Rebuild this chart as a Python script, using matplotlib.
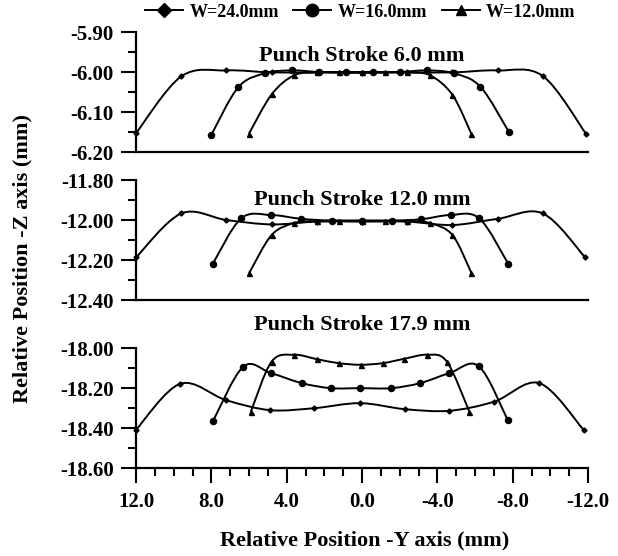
import matplotlib
matplotlib.use('Agg')
import matplotlib.pyplot as plt
import numpy as np
from matplotlib.path import Path
from matplotlib.patches import PathPatch
from matplotlib.lines import Line2D
from matplotlib.ticker import MultipleLocator, FormatStrFormatter

plt.rcParams['font.family'] = ['Liberation Serif', 'DejaVu Serif']
plt.rcParams['font.weight'] = 'bold'

# Punch stroke 6.0 mm
s6_w24_y = [12.0, 9.6, 7.2, 4.8, 2.4, 0.0, -2.4, -4.8, -7.2, -9.6, -11.9]
s6_w24_z = [-6.153, -6.011, -5.996, -6.001, -6.001, -6.002, -6.001, -6.001, -5.996, -6.010, -6.155]
s6_w16_y = [8.0, 6.57, 5.14, 3.71, 2.28, 0.86, -0.57, -2.0, -3.43, -4.86, -6.29, -7.8]
s6_w16_z = [-6.157, -6.038, -6.003, -5.996, -6.0, -6.001, -6.001, -6.0, -5.996, -6.003, -6.037, -6.150]
s6_w12_y = [6.0, 4.8, 3.6, 2.4, 1.2, 0.0, -1.2, -2.4, -3.6, -4.8, -5.8]
s6_w12_z = [-6.154, -6.056, -6.008, -6.001, -6.0, -6.0, -6.0, -6.001, -6.008, -6.057, -6.154]

# Punch stroke 12.0 mm
s12_w24_y = [12.0, 9.6, 7.2, 4.8, 2.4, 0.0, -2.4, -4.8, -7.2, -9.6, -11.85]
s12_w24_z = [-12.187, -11.967, -12.0, -12.022, -12.008, -12.008, -12.008, -12.025, -11.994, -11.967, -12.187]
s12_w16_y = [7.93, 6.42, 4.83, 3.24, 1.6, 0.0, -1.6, -3.15, -4.7, -6.23, -7.77]
s12_w16_z = [-12.22, -11.992, -11.975, -11.994, -12.003, -12.003, -12.003, -11.996, -11.975, -11.992, -12.22]
s12_w12_y = [5.98, 4.8, 3.6, 2.4, 1.2, 0.0, -1.2, -2.4, -3.6, -4.8, -5.8]
s12_w12_z = [-12.263, -12.075, -12.015, -12.005, -12.003, -12.003, -12.003, -12.005, -12.015, -12.075, -12.263]

# Punch stroke 17.9 mm
s18_w24_y = [12.0, 9.65, 7.22, 4.87, 2.53, 0.1, -2.27, -4.64, -7.03, -9.42, -11.76]
s18_w24_z = [-18.408, -18.178, -18.26, -18.31, -18.30, -18.275, -18.305, -18.313, -18.267, -18.175, -18.408]
s18_w16_y = [7.9, 6.3, 4.83, 3.19, 1.65, 0.09, -1.54, -3.08, -4.64, -6.2, -7.74]
s18_w16_z = [-18.362, -18.092, -18.125, -18.175, -18.20, -18.20, -18.20, -18.175, -18.125, -18.09, -18.36]
s18_w12_y = [5.9, 4.8, 3.6, 2.4, 1.24, 0.08, -1.1, -2.25, -3.45, -4.5, -5.7]
s18_w12_z = [-18.317, -18.067, -18.033, -18.055, -18.075, -18.083, -18.075, -18.053, -18.033, -18.067, -18.317]

labels = ['W=24.0mm', 'W=16.0mm', 'W=12.0mm']
markers = ['D', 'o', '^']
msizes = [2.6, 4.4, 3.6]

panels = [
    ('Punch Stroke 6.0 mm', (-6.20, -5.90), 0.10, 0.05,
     [(s6_w24_y, s6_w24_z), (s6_w16_y, s6_w16_z), (s6_w12_y, s6_w12_z)]),
    ('Punch Stroke 12.0 mm', (-12.40, -11.80), 0.20, 0.10,
     [(s12_w24_y, s12_w24_z), (s12_w16_y, s12_w16_z), (s12_w12_y, s12_w12_z)]),
    ('Punch Stroke 17.9 mm', (-18.60, -18.00), 0.20, 0.10,
     [(s18_w24_y, s18_w24_z), (s18_w16_y, s18_w16_z), (s18_w12_y, s18_w12_z)]),
]
title_pos = [0.80, 0.83, 1.19]
bottoms = [0.7266, 0.4604, 0.158]


def smooth_path(x, z):
    # bezier segments (catmull-rom style), like a "smoothed line" chart
    p = np.column_stack([x, z])
    n = len(p)
    verts = [p[0]]
    codes = [Path.MOVETO]
    for i in range(n - 1):
        p0 = p[max(i - 1, 0)]
        p1 = p[i]
        p2 = p[i + 1]
        p3 = p[min(i + 2, n - 1)]
        verts += [p1 + (p2 - p0) / 6, p2 - (p3 - p1) / 6, p2]
        codes += [Path.CURVE4] * 3
    return Path(verts, codes)


fig = plt.figure(figsize=(6.18, 5.56), dpi=100)

for k, (title, ylim, major, minor, series) in enumerate(panels):
    ax = fig.add_axes([0.2201, bottoms[k], 0.7314, 0.2158])
    for (yy, zz), m, ms in zip(series, markers, msizes):
        ax.add_patch(PathPatch(smooth_path(yy, zz), fill=False, edgecolor='black',
                               lw=1.4, clip_on=False))
        ax.plot(yy, zz, linestyle='none', marker=m, ms=ms, color='black', clip_on=False)
    ax.set_xlim(12, -12)
    ax.set_ylim(*ylim)
    ax.yaxis.set_major_locator(MultipleLocator(major))
    ax.yaxis.set_minor_locator(MultipleLocator(minor))
    ax.yaxis.set_major_formatter(FormatStrFormatter('%.2f'))
    ax.spines['top'].set_visible(False)
    ax.spines['right'].set_visible(False)
    for sp in ['left', 'bottom']:
        ax.spines[sp].set_linewidth(1.6)
    ax.tick_params(axis='y', which='major', direction='out', length=11, width=1.5,
                   labelsize=15, pad=5)
    ax.tick_params(axis='y', which='minor', direction='out', length=5.5, width=1.5)
    if k < 2:
        ax.tick_params(axis='x', which='both', bottom=False, labelbottom=False)
    else:
        ax.xaxis.set_major_locator(MultipleLocator(4))
        ax.xaxis.set_minor_locator(MultipleLocator(1))
        ax.xaxis.set_major_formatter(FormatStrFormatter('%.1f'))
        ax.tick_params(axis='x', which='major', direction='out', length=11, width=1.5,
                       labelsize=15, pad=6)
        ax.tick_params(axis='x', which='minor', direction='out', length=5.5, width=1.5)
    ax.text(0.5, title_pos[k], title, transform=ax.transAxes, ha='center',
            va='center', fontsize=16, fontweight='bold')
    ax.patch.set_alpha(0)

handles = [Line2D([], [], color='black', lw=1.4, marker=m, ms=s)
           for m, s in zip(markers, [7, 9, 7.5])]
fig.legend(handles, labels, loc='center', bbox_to_anchor=(0.583, 0.978), ncol=3,
           frameon=False, fontsize=13, handlelength=2.1, handletextpad=0.35,
           columnspacing=0.8)

fig.text(0.036, 0.535, 'Relative Position -Z axis (mm)', rotation=90, ha='center',
         va='center', fontsize=16, fontweight='bold')
fig.text(0.59, 0.028, 'Relative Position -Y axis (mm)', ha='center', va='center',
         fontsize=16, fontweight='bold')

fig.savefig('out.png', dpi=100)
